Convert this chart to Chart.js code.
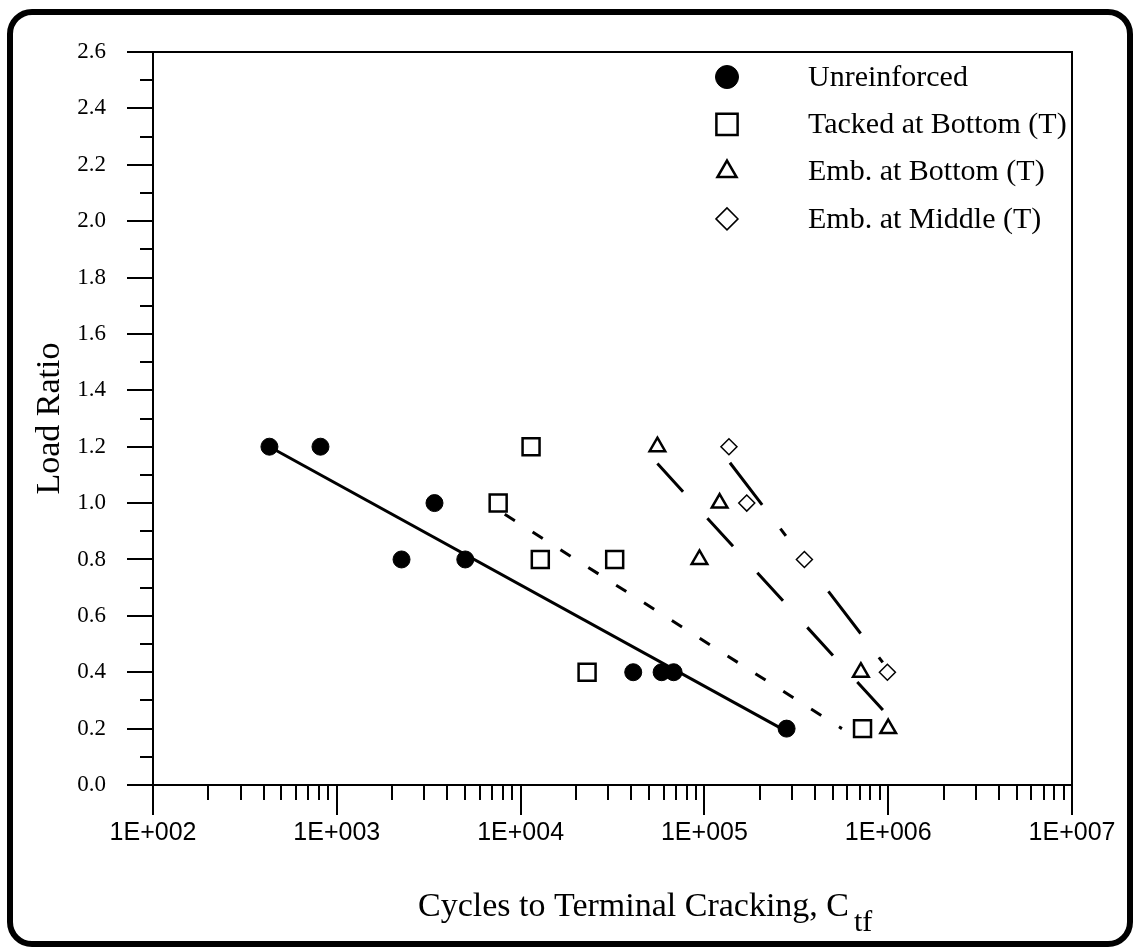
<!DOCTYPE html>
<html>
<head>
<meta charset="utf-8">
<title>Load Ratio vs Cycles to Terminal Cracking</title>
<script src="https://cdn.jsdelivr.net/npm/chart.js@4.4.1/dist/chart.umd.min.js"></script>
<style>
  html, body { margin: 0; padding: 0; background: #fff; }
  #wrap { position: relative; width: 1134px; height: 952px; }
</style>
</head>
<body>
<div id="wrap"><canvas id="myChart"></canvas></div>
<script>
// measured points
const unreinforcedX = [430, 815, 2250, 3400, 5000, 41000, 58500, 68000, 280000];
const unreinforcedY = [1.2, 1.2, 0.8, 1.0, 0.8, 0.4, 0.4, 0.4, 0.2];
const tackedX = [7550, 11400, 12800, 23000, 32500, 725000];
const tackedY = [1.0, 1.2, 0.8, 0.4, 0.8, 0.2];
const embBottomX = [55500, 94000, 121000, 710000, 1000000];
const embBottomY = [1.2, 0.8, 1.0, 0.4, 0.2];
const embMiddleX = [136000, 170000, 350000, 990000];
const embMiddleY = [1.2, 1.0, 0.8, 0.4];

// trend lines (end points)
const unreinforcedFitX = [430, 280000];
const unreinforcedFitY = [1.2, 0.19];
const tackedFitX = [8200, 560000];
const tackedFitY = [0.96, 0.2];
const embBottomFitX = [55500, 973000];
const embBottomFitY = [1.14, 0.254];
const embMiddleFitX = [137700, 934000];
const embMiddleFitY = [1.143, 0.435];

const seriesNames = ['Unreinforced', 'Tacked at Bottom (T)', 'Emb. at Bottom (T)', 'Emb. at Middle (T)'];

const xTickValues = [1e2, 1e3, 1e4, 1e5, 1e6, 1e7];
const xTickLabels = ['1E+002', '1E+003', '1E+004', '1E+005', '1E+006', '1E+007'];
const yTickValues = [0, 0.2, 0.4, 0.6, 0.8, 1.0, 1.2, 1.4, 1.6, 1.8, 2.0, 2.2, 2.4, 2.6];
const yTickLabels = ['0.0', '0.2', '0.4', '0.6', '0.8', '1.0', '1.2', '1.4', '1.6', '1.8', '2.0', '2.2', '2.4', '2.6'];
const yMinorTicks = [0.1, 0.3, 0.5, 0.7, 0.9, 1.1, 1.3, 1.5, 1.7, 1.9, 2.1, 2.3, 2.5];

function pts(xs, ys) {
  return xs.map((x, i) => ({ x: x, y: ys[i] }));
}

function markerSet(name, xs, ys, style, fill, radius, legendRadius, bw) {
  return {
    label: name,
    data: pts(xs, ys),
    showLine: false,
    pointStyle: style,
    pointRadius: radius,
    backgroundColor: fill,
    borderColor: '#000',
    borderWidth: bw,
    legendRadius: legendRadius,
    showInLegend: true,
    order: 1
  };
}

function fitLine(xs, ys, dash) {
  return {
    label: 'fit',
    data: pts(xs, ys),
    showLine: true,
    pointRadius: 0,
    borderColor: '#000',
    borderWidth: 3,
    borderDash: dash,
    fill: false,
    order: 2
  };
}

const serif = 'Liberation Serif';

// outer rounded frame
const frame = {
  id: 'frame',
  beforeDraw(chart) {
    const ctx = chart.ctx;
    ctx.save();
    ctx.fillStyle = '#fff';
    ctx.fillRect(0, 0, chart.width, chart.height);
    ctx.strokeStyle = '#000';
    ctx.lineWidth = 6;
    ctx.beginPath();
    ctx.roundRect(10, 12, 1120, 932, 22);
    ctx.stroke();
    ctx.restore();
  }
};

// minor ticks, plot box, x title
const axisExtras = {
  id: 'axisExtras',
  afterDraw(chart) {
    const { ctx, chartArea: a, scales: { x, y } } = chart;
    ctx.save();
    ctx.strokeStyle = '#000';
    ctx.lineWidth = 2;
    ctx.beginPath();
    yMinorTicks.forEach(v => {
      const py = Math.round(y.getPixelForValue(v));
      ctx.moveTo(a.left - 13, py);
      ctx.lineTo(a.left, py);
    });
    for (let d = 0; d < xTickValues.length - 1; d++) {
      for (let m = 2; m <= 9; m++) {
        const px = Math.round(x.getPixelForValue(m * xTickValues[d]));
        ctx.moveTo(px, a.bottom);
        ctx.lineTo(px, a.bottom + 15);
      }
    }
    ctx.stroke();
    ctx.strokeRect(a.left, a.top, a.right - a.left, a.bottom - a.top);

    ctx.fillStyle = '#000';
    ctx.textBaseline = 'alphabetic';
    ctx.textAlign = 'left';
    ctx.font = '34px "' + serif + '"';
    const main = 'Cycles to Terminal Cracking, C';
    ctx.fillText(main, 418, 916);
    const w = ctx.measureText(main).width;
    ctx.font = '30px "' + serif + '"';
    ctx.fillText('tf', 418 + w + 5, 931);
    ctx.restore();
  }
};

// legend inside the plot, top right
const legendInside = {
  id: 'legendInside',
  afterDraw(chart) {
    const ctx = chart.ctx;
    const items = chart.data.datasets.filter(d => d.showInLegend);
    ctx.save();
    ctx.font = '30px "' + serif + '"';
    ctx.textBaseline = 'middle';
    ctx.textAlign = 'left';
    items.forEach((d, i) => {
      const ly = 77 + i * 47.3;
      ctx.fillStyle = d.backgroundColor;
      ctx.strokeStyle = d.borderColor;
      ctx.lineWidth = d.borderWidth;
      Chart.helpers.drawPoint(ctx, { pointStyle: d.pointStyle, radius: d.legendRadius, borderWidth: d.borderWidth, rotation: 0 }, 727, ly);
      ctx.fillStyle = '#000';
      ctx.fillText(d.label, 808, ly + 1);
    });
    ctx.restore();
  }
};

const ctx = document.getElementById('myChart');

new Chart(ctx, {
  type: 'scatter',
  data: {
    datasets: [
      fitLine(unreinforcedFitX, unreinforcedFitY, []),
      fitLine(tackedFitX, tackedFitY, [12, 21]),
      fitLine(embBottomFitX, embBottomFitY, [38, 36]),
      fitLine(embMiddleFitX, embMiddleFitY, [53, 30, 9, 70]),
      markerSet(seriesNames[0], unreinforcedX, unreinforcedY, 'circle', '#000', 8.5, 11.5, 1),
      markerSet(seriesNames[1], tackedX, tackedY, 'rect', '#fff', 12, 15, 2.5),
      markerSet(seriesNames[2], embBottomX, embBottomY, 'triangle', '#fff', 9, 11, 2.5),
      markerSet(seriesNames[3], embMiddleX, embMiddleY, 'rectRot', '#fff', 8, 11, 1.5)
    ]
  },
  options: {
    responsive: true,
    maintainAspectRatio: false,
    animation: false,
    layout: {
      padding: { left: 20, right: 62, top: 52, bottom: 0 }
    },
    plugins: {
      legend: { display: false },
      tooltip: { enabled: false }
    },
    scales: {
      x: {
        type: 'logarithmic',
        min: 100,
        max: 1e7,
        afterBuildTicks: (scale) => {
          scale.ticks = xTickValues.map(v => ({ value: v, major: true }));
        },
        afterFit: (scale) => { scale.height = 167; },
        ticks: {
          autoSkip: false,
          maxRotation: 0,
          padding: 3,
          color: '#000',
          font: { family: 'Liberation Sans', size: 25 },
          callback: (v, i) => xTickLabels[i]
        },
        grid: { drawOnChartArea: false, tickLength: 30, color: '#000', lineWidth: 2 },
        border: { color: '#000', width: 2 }
      },
      y: {
        min: 0,
        max: 2.6,
        afterBuildTicks: (scale) => {
          scale.ticks = yTickValues.map(v => ({ value: v }));
        },
        afterFit: (scale) => { scale.width = 133; },
        ticks: {
          autoSkip: false,
          padding: 21,
          color: '#000',
          font: { family: serif, size: 23 },
          callback: (v, i) => yTickLabels[i]
        },
        grid: { drawOnChartArea: false, tickLength: 26, color: '#000', lineWidth: 2 },
        border: { color: '#000', width: 2 },
        title: {
          display: true,
          text: 'Load Ratio',
          color: '#000',
          font: { family: serif, size: 34 },
          padding: { top: 10, bottom: 0 }
        }
      }
    }
  },
  plugins: [frame, axisExtras, legendInside]
});
</script>
</body>
</html>
